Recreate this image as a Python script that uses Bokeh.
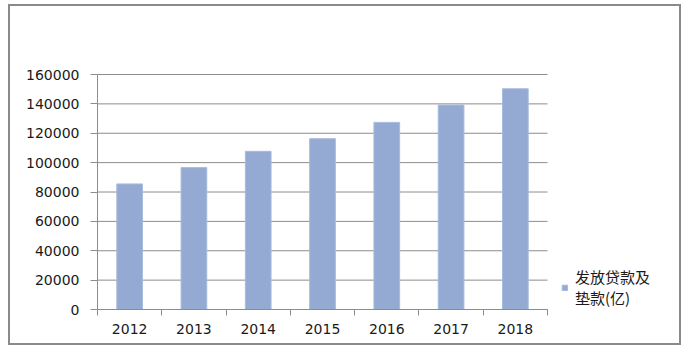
from bokeh.plotting import figure
from bokeh.models import (ColumnDataSource, FixedTicker, Range1d, Legend, LegendItem)
from bokeh.embed import file_html
from bokeh.resources import INLINE

years = ["2012", "2013", "2014", "2015", "2016", "2017", "2018"]
loans = [85500, 96600, 107700, 116300, 127400, 139200, 150300]
series_name = "发放贷款及\n垫款(亿)"
y_ticks = [0, 20000, 40000, 60000, 80000, 100000, 120000, 140000, 160000]

n = len(years)
y_max = y_ticks[-1]
xpos = [i + 0.5 for i in range(n)]
src = ColumnDataSource(dict(x=xpos, top=loans, year=years))

# layout (pixels)
W, H = 673, 341
LEFT = 87            # canvas x of plot-area left edge
PLOT_W = 450         # width of the bar area
PLOT_H = 235         # height of 0..160000
TOP = 58             # canvas y of frame top (10px above the 160000 line)
BOTTOM = 38
FW = W - LEFT
FH = H - TOP - BOTTOM

p = figure(width=W, height=H, output_backend="svg", toolbar_location=None,
           x_range=Range1d(0, n * FW / PLOT_W),
           y_range=Range1d(0, y_max * FH / PLOT_H),
           min_border_left=LEFT, min_border_right=0,
           min_border_top=TOP, min_border_bottom=BOTTOM)
p.styles = {"border": "2px solid #8a8a8a", "margin-left": "8px", "margin-top": "4px"}
p.outline_line_color = None
p.background_fill_color = "white"
p.border_fill_color = "white"

gray = "#8c8c8c"
font = "DejaVu Sans"

# horizontal gridlines restricted to the bar area
p.segment(x0=[0] * len(y_ticks), x1=[n] * len(y_ticks), y0=y_ticks, y1=y_ticks,
          line_color=gray, line_width=1)

r = p.vbar(x="x", top="top", width=0.4, bottom=0, source=src,
           fill_color="#94aad2", line_color="#a9bbdd", line_width=1)

# y axis
ya = p.yaxis[0]
ya.ticker = FixedTicker(ticks=y_ticks, minor_ticks=[])
ya.bounds = (0, y_max)
ya.axis_line_color = gray
ya.major_tick_line_color = gray
ya.major_tick_out = 7
ya.major_tick_in = 0
ya.minor_tick_line_color = None
ya.major_label_standoff = 11
ya.major_label_text_font = font
ya.major_label_text_font_size = "14px"
ya.major_label_text_color = "#1a1a1a"
ya.formatter.use_scientific = False

# x axis
xa = p.xaxis[0]
xa.ticker = FixedTicker(ticks=xpos, minor_ticks=list(range(n + 1)))
xa.bounds = (0, n)
xa.major_label_overrides = {x: y for x, y in zip(xpos, years)}
xa.axis_line_color = gray
xa.major_tick_line_color = None
xa.minor_tick_line_color = gray
xa.minor_tick_out = 6
xa.minor_tick_in = 0
xa.major_label_standoff = 8
xa.major_label_text_font = font
xa.major_label_text_font_size = "14px"
xa.major_label_text_color = "#1a1a1a"

p.xgrid.grid_line_color = None
p.ygrid.grid_line_color = None

legend = Legend(items=[LegendItem(label=series_name, renderers=[r])],
                location=(464, 1), orientation="vertical",
                border_line_color=None, background_fill_alpha=0,
                glyph_width=7, glyph_height=7, label_standoff=7,
                padding=0, margin=0,
                label_text_font="Noto Sans CJK SC", label_text_font_size="15px",
                label_text_line_height=1.05,
                label_text_color="#1a1a1a")
p.add_layout(legend, "center")

open("out.html", "w").write(file_html(p, INLINE))
